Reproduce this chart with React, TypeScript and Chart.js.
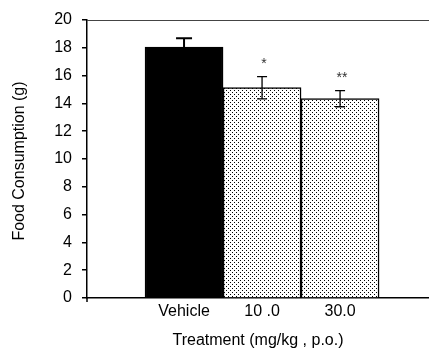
import React, { useEffect, useRef } from 'react';
import { Chart, registerables } from 'chart.js';

Chart.register(...registerables);

const categories = ['Vehicle', '10 .0', '30.0'];
const means = [18.05, 15.13, 14.34];
const sems = [0.64, 0.8, 0.58];
const significance = ['', '*', '**'];
const yMin = 0;
const yMax = 20;
const yStep = 2;
const yTitle = 'Food Consumption (g)';
const xTitle = 'Treatment (mg/kg , p.o.)';

const FONT_FAMILY = '"Liberation Sans", Arial, sans-serif';

function makeDotPattern(): CanvasPattern | string {
  const c = document.createElement('canvas');
  c.width = 4;
  c.height = 4;
  const ctx = c.getContext('2d');
  if (!ctx) return '#ddd';
  ctx.fillStyle = '#fff';
  ctx.fillRect(0, 0, 4, 4);
  ctx.fillStyle = '#000';
  ctx.fillRect(0, 0, 1, 1);
  ctx.fillRect(2, 2, 1, 1);
  return ctx.createPattern(c, 'repeat') || '#ddd';
}

const errorBarPlugin = {
  id: 'errorBars',
  afterDatasetsDraw(chart: any) {
    const { ctx, scales } = chart;
    const xs = scales.x;
    const ys = scales.y;
    const a = chart.chartArea;
    ctx.save();
    ctx.strokeStyle = '#000';
    means.forEach((m, i) => {
      const x = xs.getPixelForValue(i);
      const yTop = ys.getPixelForValue(m + sems[i]);
      const yBot = ys.getPixelForValue(m - sems[i]);
      const half = i === 0 ? 8 : 5;
      ctx.lineWidth = i === 0 ? 2 : 1.3;
      ctx.beginPath();
      ctx.moveTo(x, yBot);
      ctx.lineTo(x, yTop);
      ctx.moveTo(x - half, yTop);
      ctx.lineTo(x + half, yTop);
      if (i !== 0) {
        ctx.moveTo(x - half, yBot);
        ctx.lineTo(x + half, yBot);
      }
      ctx.stroke();
      if (significance[i]) {
        ctx.fillStyle = '#333';
        ctx.font = '14px ' + FONT_FAMILY;
        ctx.textAlign = 'center';
        ctx.textBaseline = 'middle';
        ctx.fillText(significance[i], x + 2, yTop - 12);
      }
    });
    // top frame line
    ctx.strokeStyle = '#444';
    ctx.lineWidth = 1;
    ctx.beginPath();
    ctx.moveTo(a.left, a.top + 0.5);
    ctx.lineTo(a.right, a.top + 0.5);
    ctx.stroke();
    // y axis stub below x axis
    ctx.strokeStyle = '#000';
    ctx.lineWidth = 1.5;
    ctx.beginPath();
    ctx.moveTo(a.left, a.bottom);
    ctx.lineTo(a.left, a.bottom + 4);
    ctx.stroke();
    // y title
    ctx.fillStyle = '#000';
    ctx.font = '16px ' + FONT_FAMILY;
    ctx.textAlign = 'center';
    ctx.textBaseline = 'middle';
    ctx.translate(20, 161);
    ctx.rotate(-Math.PI / 2);
    ctx.fillText(yTitle, 0, 0);
    ctx.restore();
  },
};

export default function App() {
  const ref = useRef<HTMLCanvasElement | null>(null);
  useEffect(() => {
    if (!ref.current) return;
    const pattern = makeDotPattern();
    const font = { family: FONT_FAMILY, size: 16 };
    const chart = new Chart(ref.current, {
      type: 'bar',
      data: {
        datasets: [
          {
            data: means.map((v, i) => ({ x: i, y: v })),
            backgroundColor: means.map((_, i) => (i === 0 ? '#000' : pattern)) as any,
            borderColor: '#000',
            borderWidth: 1.5,
            barPercentage: 1,
            categoryPercentage: 1,
          },
        ],
      },
      options: {
        responsive: false,
        animation: false,
        layout: { padding: { top: 20, right: 0, left: 0, bottom: 0 } },
        plugins: { legend: { display: false }, tooltip: { enabled: false } },
        scales: {
          x: {
            type: 'linear',
            min: -1.244,
            max: 3.14,
            offset: false,
            afterBuildTicks: (s: any) => {
              s.ticks = categories.map((_, i) => ({ value: i }));
            },
            afterFit: (s: any) => {
              s.height = 52;
            },
            ticks: {
              autoSkip: false,
              maxRotation: 0,
              padding: 4,
              color: '#000',
              font,
              callback: (v: any) => categories[v] ?? '',
            },
            grid: { drawOnChartArea: false, drawTicks: false, tickLength: 0 },
            border: { display: true, color: '#000', width: 1.5 },
            title: {
              display: true,
              text: xTitle,
              color: '#000',
              font,
              padding: { top: 0, bottom: 0 },
            },
          },
          y: {
            min: yMin,
            max: yMax,
            afterFit: (s: any) => {
              s.width = 87;
            },
            ticks: { stepSize: yStep, padding: 10, color: '#000', font },
            grid: {
              drawOnChartArea: false,
              drawTicks: true,
              tickLength: 5,
              color: '#000',
              lineWidth: 1.5,
            },
            border: { display: true, color: '#000', width: 1.5 },
            title: { display: false },
          },
        },
      } as any,
      plugins: [errorBarPlugin],
    });
    return () => chart.destroy();
  }, []);
  return (
    <div style={{ position: 'absolute', left: 0, top: 0, width: 429, height: 350, background: '#fff' }}>
      <canvas ref={ref} width={429} height={350} />
    </div>
  );
}
